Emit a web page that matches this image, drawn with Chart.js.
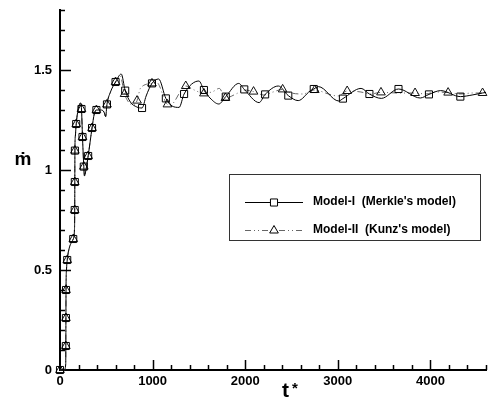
<!DOCTYPE html>
<html>
<head>
<meta charset="utf-8">
<script src="https://cdn.jsdelivr.net/npm/chart.js@4.4.0/dist/chart.umd.min.js"></script>
<style>
html, body { margin: 0; padding: 0; background: #fff; }
canvas { display: block; }
</style>
</head>
<body>
<canvas id="flowChart" width="492" height="402"></canvas>
<script>
// Model-I (Merkle's model): time t* and mass flow rate
var timeI = [0, 45, 62, 63, 64, 65, 70, 78, 100, 143, 156, 159, 160, 161, 166, 175, 195, 222, 232, 243, 257, 264, 280, 304, 346, 370, 393, 440, 475, 493, 507, 545, 600, 661, 704, 760, 830, 886, 930, 993, 1065, 1143, 1210, 1286, 1340, 1500, 1554, 1620, 1715, 1790, 1930, 1990, 2150, 2215, 2358, 2465, 2572, 2700, 2740, 2790, 3010, 3055, 3251, 3341, 3470, 3655, 3890, 3984, 4110, 4323, 4450, 4563, 4600];
var massI = [0, 0, 0.03, 0.12, 0.26, 0.40, 0.50, 0.55, 0.61, 0.655, 0.70, 0.80, 0.94, 1.097, 1.17, 1.23, 1.30, 1.335, 1.305, 1.165, 1.017, 0.97, 1.00, 1.07, 1.21, 1.28, 1.30, 1.30, 1.29, 1.267, 1.328, 1.39, 1.44, 1.48, 1.397, 1.34, 1.315, 1.31, 1.37, 1.433, 1.455, 1.358, 1.32, 1.313, 1.38, 1.445, 1.40, 1.36, 1.33, 1.367, 1.433, 1.403, 1.337, 1.378, 1.42, 1.372, 1.347, 1.395, 1.405, 1.417, 1.345, 1.357, 1.408, 1.38, 1.358, 1.405, 1.36, 1.378, 1.397, 1.367, 1.375, 1.385, 1.388];
// times that carry a square symbol
var markI = [0, 63, 64, 65, 78, 143, 159, 160, 161, 175, 232, 243, 257, 304, 346, 393, 507, 600, 704, 886, 993, 1143, 1340, 1554, 1790, 1990, 2215, 2465, 2740, 3055, 3341, 3655, 3984, 4323];

// Model-II (Kunz's model)
var timeII = [0, 45, 62, 63, 64, 65, 70, 78, 100, 143, 156, 159, 160, 161, 166, 175, 195, 222, 232, 243, 257, 264, 280, 304, 346, 370, 393, 440, 475, 493, 507, 545, 600, 650, 697, 760, 800, 832, 870, 993, 1040, 1160, 1190, 1358, 1450, 1554, 1650, 1720, 1786, 1900, 1990, 2090, 2200, 2300, 2404, 2500, 2620, 2751, 2900, 3000, 3101, 3250, 3350, 3466, 3650, 3834, 3950, 4050, 4191, 4330, 4450, 4563, 4600];
var massII = [0, 0, 0.03, 0.12, 0.26, 0.40, 0.50, 0.55, 0.61, 0.655, 0.70, 0.80, 0.94, 1.097, 1.17, 1.23, 1.30, 1.335, 1.305, 1.165, 1.017, 0.97, 1.00, 1.07, 1.21, 1.28, 1.30, 1.30, 1.29, 1.267, 1.328, 1.39, 1.44, 1.47, 1.38, 1.33, 1.325, 1.347, 1.41, 1.433, 1.44, 1.328, 1.325, 1.42, 1.40, 1.383, 1.392, 1.408, 1.36, 1.38, 1.40, 1.392, 1.375, 1.39, 1.403, 1.385, 1.38, 1.40, 1.38, 1.37, 1.395, 1.39, 1.38, 1.388, 1.385, 1.385, 1.38, 1.39, 1.387, 1.38, 1.385, 1.385, 1.39];
// times that carry a triangle symbol
var markII = [0, 63, 64, 65, 78, 143, 159, 160, 161, 175, 232, 243, 257, 304, 346, 393, 507, 600, 697, 832, 993, 1160, 1358, 1554, 1786, 2090, 2404, 2751, 3101, 3466, 3834, 4191, 4563];

var xLabels = [0, 1000, 2000, 3000, 4000];
var yLabels = [0, 0.5, 1, 1.5];
var seriesNames = ["Model-I  (Merkle's model)", "Model-II  (Kunz's model)"];

function toPoints(ts, vs) {
    var out = [];
    for (var i = 0; i < ts.length; i++) out.push({ x: ts[i], y: vs[i] });
    return out;
}

function markRadius(ts, marks, r) {
    return function (ctx) {
        return marks.indexOf(ts[ctx.dataIndex]) >= 0 ? r : 0;
    };
}

var FONT = '"Liberation Sans", Arial, sans-serif';

// inward tick marks, axis titles and the boxed legend
var decorations = {
    id: 'decorations',
    afterDraw: function (chart) {
        var ctx = chart.ctx;
        var xs = chart.scales.x, ys = chart.scales.y;
        var area = chart.chartArea;
        ctx.save();
        ctx.strokeStyle = '#000';
        ctx.lineWidth = 1.5;
        ctx.beginPath();
        xs.ticks.forEach(function (t) {
            var px = Math.round(xs.getPixelForValue(t.value)) + 0.5;
            var len = xLabels.indexOf(t.value) >= 0 ? 10 : 5;
            if (t.value === 0) return;
            ctx.moveTo(px, area.bottom);
            ctx.lineTo(px, area.bottom - len);
        });
        ys.ticks.forEach(function (t) {
            var v = Math.round(t.value * 10) / 10;
            var py = Math.round(ys.getPixelForValue(v)) + 0.5;
            var len = yLabels.indexOf(v) >= 0 ? 11 : 5;
            if (v === 0) return;
            ctx.moveTo(area.left, py);
            ctx.lineTo(area.left + len, py);
        });
        ctx.stroke();

        // axis titles
        ctx.fillStyle = '#000';
        ctx.textBaseline = 'alphabetic';
        ctx.textAlign = 'center';
        ctx.font = 'bold 19px ' + FONT;
        ctx.fillText('\u1E41', 23, 165);
        ctx.textAlign = 'left';
        ctx.font = 'bold 21px ' + FONT;
        ctx.fillText('t', 282, 397);
        ctx.font = 'bold 15px ' + FONT;
        ctx.fillText('*', 292, 393);

        // legend
        ctx.lineWidth = 1;
        ctx.strokeStyle = '#333';
        ctx.strokeRect(229.5, 174.5, 251, 66);
        var rows = [202, 230];
        chart.data.datasets.forEach(function (ds, i) {
            var y = rows[i] + 0.5;
            ctx.save();
            ctx.strokeStyle = ds.borderColor;
            ctx.lineWidth = 1;
            ctx.setLineDash(ds.borderDash || []);
            ctx.beginPath();
            ctx.moveTo(245, y);
            ctx.lineTo(303, y);
            ctx.stroke();
            ctx.restore();
            ctx.save();
            ctx.fillStyle = '#fff';
            ctx.strokeStyle = '#000';
            ctx.lineWidth = 1;
            Chart.helpers.drawPoint(ctx, {
                pointStyle: ds.pointStyle, radius: 5, rotation: 0, borderWidth: 1
            }, 274, y);
            ctx.restore();
            ctx.fillStyle = '#000';
            ctx.font = 'bold 12px ' + FONT;
            ctx.textBaseline = 'middle';
            ctx.fillText(seriesNames[i], 313, rows[i]);
        });
        ctx.restore();
    }
};

Chart.defaults.font.family = FONT;

new Chart(document.getElementById('flowChart'), {
    type: 'line',
    data: {
        datasets: [{
            label: seriesNames[0],
            data: toPoints(timeI, massI),
            borderColor: '#000',
            borderWidth: 1,
            cubicInterpolationMode: 'monotone',
            pointStyle: 'rect',
            pointRadius: markRadius(timeI, markI, 5),
            pointBorderColor: '#000',
            pointBackgroundColor: 'rgba(0,0,0,0)',
            pointBorderWidth: 1,
            clip: false
        }, {
            label: seriesNames[1],
            data: toPoints(timeII, massII),
            borderColor: '#666',
            borderWidth: 1,
            borderDash: [6, 3, 1, 3, 1, 3],
            cubicInterpolationMode: 'monotone',
            pointStyle: 'triangle',
            pointRadius: markRadius(timeII, markII, 5),
            pointBorderColor: '#111',
            pointBackgroundColor: 'rgba(0,0,0,0)',
            pointBorderWidth: 1,
            clip: false
        }]
    },
    options: {
        responsive: false,
        animation: false,
        events: [],
        layout: { padding: { top: 10, right: 2, left: 0, bottom: 0 } },
        plugins: { legend: { display: false }, tooltip: { enabled: false } },
        scales: {
            x: {
                type: 'linear',
                min: 0,
                max: 4600,
                afterFit: function (s) {
                    s.height = 32;
                    s.paddingLeft = 0;
                    s.paddingRight = 0;
                },
                grid: { display: false, drawTicks: false },
                border: { display: true, color: '#000', width: 2 },
                ticks: {
                    stepSize: 200,
                    autoSkip: false,
                    maxRotation: 0,
                    padding: 4,
                    color: '#000',
                    font: { size: 13, weight: 'bold' },
                    callback: function (v) { return xLabels.indexOf(v) >= 0 ? String(v) : ''; }
                }
            },
            y: {
                type: 'linear',
                min: 0,
                max: 1.8,
                afterFit: function (s) {
                    s.width = 60;
                    s.paddingTop = 0;
                    s.paddingBottom = 0;
                },
                grid: { display: false, drawTicks: false },
                border: { display: true, color: '#000', width: 2 },
                ticks: {
                    stepSize: 0.1,
                    autoSkip: false,
                    padding: 8,
                    color: '#000',
                    font: { size: 13, weight: 'bold' },
                    callback: function (v) {
                        var r = Math.round(v * 10) / 10;
                        return yLabels.indexOf(r) >= 0 ? String(r) : '';
                    }
                }
            }
        }
    },
    plugins: [decorations]
});
</script>
</body>
</html>
